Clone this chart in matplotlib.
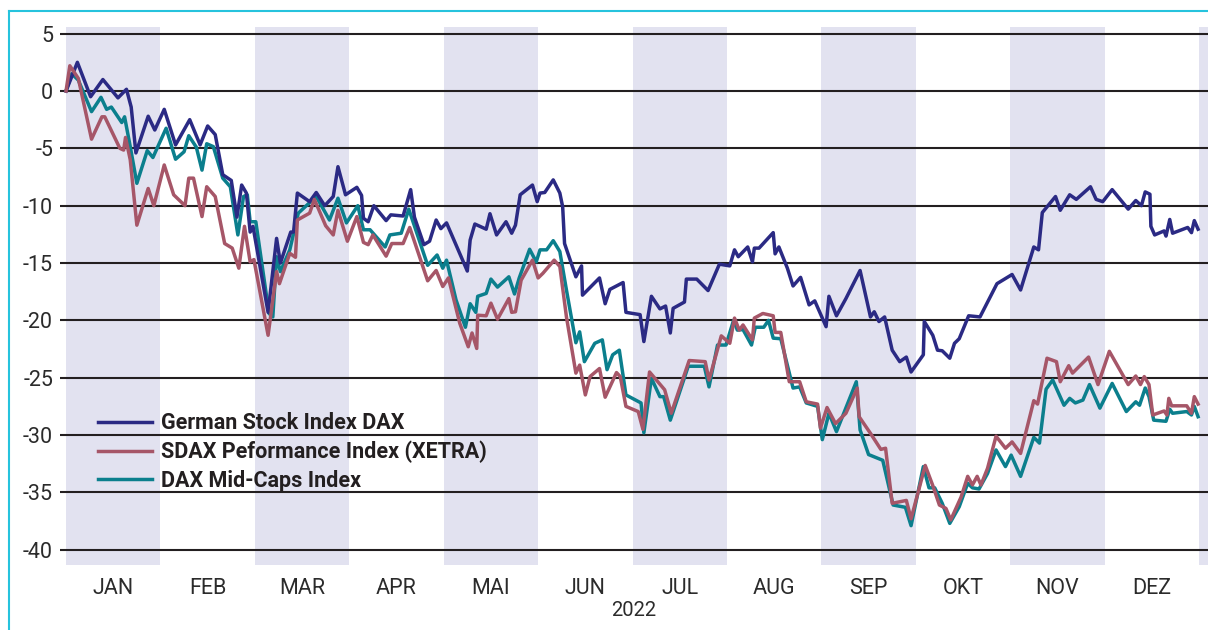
import matplotlib
matplotlib.use("Agg")
import matplotlib.pyplot as plt
from matplotlib.lines import Line2D

plt.rcParams['font.family'] = ['Roboto', 'DejaVu Sans']

# time axis: months since 1 Jan 2022 (each month drawn with equal width)
months = ['JAN', 'FEB', 'MAR', 'APR', 'MAI', 'JUN', 'JUL', 'AUG', 'SEP', 'OKT', 'NOV', 'DEZ']

dax_t = [0.0, 0.06, 0.12, 0.26, 0.39, 0.55, 0.64, 0.69, 0.74, 0.87, 0.94, 1.04, 1.16, 1.31, 1.42, 1.50,
         1.58, 1.66, 1.75, 1.81, 1.86, 1.91, 1.95, 1.98, 2.14, 2.23, 2.27, 2.38, 2.41, 2.45, 2.58, 2.65,
         2.74, 2.83, 2.88, 2.96, 3.08, 3.13, 3.15, 3.20, 3.26, 3.39, 3.44, 3.57, 3.65, 3.69, 3.79, 3.85,
         3.92, 3.97, 4.03, 4.25, 4.28, 4.33, 4.45, 4.49, 4.56, 4.66, 4.72, 4.76, 4.81, 4.94, 4.99, 5.02,
         5.07, 5.16, 5.23, 5.26, 5.28, 5.40, 5.46, 5.47, 5.56, 5.65, 5.71, 5.76, 5.90, 5.93, 6.08, 6.12,
         6.20, 6.29, 6.35, 6.40, 6.43, 6.55, 6.57, 6.68, 6.80, 6.92, 7.03, 7.08, 7.12, 7.22, 7.27, 7.29,
         7.34, 7.49, 7.51, 7.55, 7.64, 7.70, 7.78, 7.87, 7.93, 8.05, 8.08, 8.16, 8.26, 8.41, 8.52, 8.56,
         8.61, 8.67, 8.75, 8.83, 8.90, 8.95, 9.08, 9.09, 9.18, 9.23, 9.28, 9.36, 9.41, 9.46, 9.56, 9.68,
         9.86, 10.02, 10.11, 10.25, 10.30, 10.34, 10.48, 10.53, 10.63, 10.70, 10.85, 10.91, 10.98, 11.08,
         11.25, 11.33, 11.39, 11.43, 11.48, 11.49, 11.53, 11.63, 11.65, 11.69, 11.72, 11.88, 11.92, 11.95,
         11.99]
dax_v = [0.0, 1.25, 2.5, -0.5, 1.0, -0.6, 0.15, -1.4, -5.4, -2.2, -3.4, -1.6, -4.7, -2.5, -4.7, -3.05,
         -3.8, -7.3, -7.8, -11.0, -8.2, -8.9, -12.3, -11.8, -19.3, -12.85, -15.0, -12.3, -12.3, -8.9, -9.65, -8.85,
         -10.0, -9.2, -6.6, -9.05, -8.4, -9.1, -11.1, -11.4, -10.0, -11.3, -10.8, -10.9, -8.6, -11.0, -13.4, -13.1,
         -11.25, -12.0, -11.5, -15.7, -13.0, -11.6, -12.05, -10.7, -12.55, -11.4, -12.4, -11.7, -9.05, -8.2, -9.65, -8.9,
         -8.85, -7.75, -8.9, -10.1, -13.3, -16.2, -15.25, -17.8, -17.05, -16.3, -18.55, -17.3, -16.7, -19.3, -19.5, -21.85,
         -17.9, -19.0, -18.75, -21.1, -18.95, -18.4, -16.4, -16.4, -17.4, -15.1, -15.25, -13.85, -14.45, -13.6, -14.9, -13.7,
         -13.7, -12.35, -14.2, -13.6, -15.45, -17.0, -16.25, -18.65, -18.3, -20.55, -17.9, -19.6, -18.1, -15.65, -19.7, -19.25,
         -20.1, -19.7, -22.6, -23.6, -23.2, -24.5, -23.0, -20.1, -21.3, -22.6, -22.65, -23.3, -22.0, -21.6, -19.6, -19.7,
         -16.8, -16.0, -17.35, -13.6, -13.85, -10.6, -9.2, -10.4, -9.05, -9.45, -8.35, -9.45, -9.65, -8.6,
         -10.3, -9.55, -10.0, -8.8, -9.0, -11.8, -12.55, -12.2, -12.65, -11.2, -12.4, -11.9, -12.35, -11.3,
         -12.05]

sdax_t = [0.0, 0.04, 0.13, 0.27, 0.38, 0.41, 0.57, 0.61, 0.63, 0.68, 0.75, 0.87, 0.93, 1.04, 1.14, 1.26,
          1.30, 1.35, 1.44, 1.49, 1.58, 1.68, 1.76, 1.83, 1.89, 1.95, 1.99, 2.14, 2.23, 2.26, 2.37, 2.43,
          2.45, 2.58, 2.63, 2.75, 2.83, 2.88, 2.98, 3.08, 3.15, 3.20, 3.25, 3.39, 3.45, 3.57, 3.64, 3.83,
          3.92, 3.99, 4.05, 4.17, 4.26, 4.30, 4.35, 4.36, 4.45, 4.50, 4.57, 4.69, 4.72, 4.76, 4.82, 4.94,
          5.00, 5.05, 5.17, 5.23, 5.30, 5.40, 5.44, 5.50, 5.55, 5.65, 5.71, 5.83, 5.87, 5.93, 6.06, 6.11,
          6.18, 6.34, 6.41, 6.60, 6.77, 6.81, 6.94, 7.03, 7.08, 7.13, 7.17, 7.27, 7.29, 7.38, 7.49, 7.51,
          7.57, 7.66, 7.77, 7.84, 7.96, 7.99, 8.06, 8.15, 8.26, 8.38, 8.40, 8.52, 8.63, 8.68, 8.75, 8.90,
          8.95, 9.10, 9.18, 9.25, 9.32, 9.37, 9.48, 9.55, 9.60, 9.65, 9.69, 9.76, 9.85, 9.95, 10.02, 10.11,
          10.25, 10.29, 10.39, 10.49, 10.53, 10.62, 10.66, 10.83, 10.93, 11.05, 11.25, 11.33, 11.38, 11.42,
          11.47, 11.51, 11.63, 11.66, 11.68, 11.71, 11.87, 11.92, 11.95, 11.99]
sdax_v = [0.0, 2.2, 1.1, -4.2, -2.25, -2.25, -5.0, -5.15, -4.05, -6.0, -11.7, -8.5, -10.0, -6.45, -9.05, -10.0,
          -7.6, -7.6, -10.95, -8.35, -9.2, -13.3, -13.7, -15.45, -11.8, -14.9, -14.7, -21.3, -15.75, -16.8, -14.15, -14.5,
          -11.25, -10.65, -9.45, -11.75, -12.55, -10.4, -13.1, -10.95, -13.2, -13.4, -12.55, -14.4, -13.3, -13.3, -11.9, -16.55,
          -15.65, -17.05, -16.3, -20.25, -22.3, -21.1, -22.45, -19.55, -19.6, -18.5, -19.9, -18.1, -19.3, -19.25, -16.5, -14.75,
          -16.3, -15.9, -14.75, -15.3, -19.7, -24.6, -23.9, -26.5, -24.9, -24.2, -26.7, -24.55, -24.9, -27.5, -27.95, -29.5,
          -24.5, -26.05, -28.1, -23.5, -23.6, -25.2, -21.35, -22.0, -19.8, -20.85, -20.4, -21.7, -19.8, -19.4, -19.6, -21.05,
          -21.05, -25.35, -25.35, -27.1, -27.3, -29.4, -27.6, -29.0, -28.1, -25.9, -28.4, -29.85, -31.25, -31.15, -35.95, -35.7,
          -37.3, -32.65, -34.4, -36.1, -36.4, -37.4, -35.4, -33.6, -34.35, -33.6, -34.35, -32.9, -30.1, -31.15, -30.6, -31.6,
          -27.0, -27.3, -23.3, -23.6, -25.35, -23.95, -24.6, -23.2, -25.6, -22.7, -25.6, -24.85, -25.6, -24.9,
          -25.6, -28.25, -27.9, -28.25, -26.8, -27.45, -27.45, -28.1, -26.65, -27.3]

mdax_t = [0.0, 0.06, 0.13, 0.27, 0.37, 0.43, 0.48, 0.59, 0.62, 0.68, 0.75, 0.86, 0.92, 1.06, 1.16, 1.25,
          1.30, 1.38, 1.44, 1.49, 1.56, 1.66, 1.74, 1.82, 1.88, 1.92, 1.95, 2.01, 2.15, 2.19, 2.23, 2.27,
          2.37, 2.46, 2.65, 2.79, 2.88, 2.97, 3.09, 3.15, 3.22, 3.38, 3.43, 3.55, 3.63, 3.83, 3.93, 3.99,
          4.03, 4.13, 4.23, 4.28, 4.34, 4.36, 4.45, 4.50, 4.57, 4.69, 4.75, 4.80, 4.91, 4.98, 5.02, 5.09,
          5.16, 5.23, 5.30, 5.40, 5.44, 5.49, 5.60, 5.68, 5.73, 5.79, 5.86, 5.93, 6.09, 6.12, 6.20, 6.29,
          6.33, 6.40, 6.59, 6.76, 6.81, 6.90, 6.99, 7.07, 7.11, 7.17, 7.26, 7.30, 7.39, 7.44, 7.49, 7.57,
          7.70, 7.77, 7.84, 7.96, 8.01, 8.08, 8.16, 8.37, 8.41, 8.50, 8.65, 8.76, 8.89, 8.95, 9.08, 9.14,
          9.20, 9.28, 9.36, 9.46, 9.55, 9.60, 9.67, 9.76, 9.85, 9.95, 10.01, 10.11, 10.25, 10.31, 10.38, 10.45,
          10.57, 10.63, 10.69, 10.77, 10.84, 10.95, 11.08, 11.23, 11.33, 11.37, 11.43, 11.47, 11.52, 11.65,
          11.69, 11.72, 11.87, 11.92, 11.95, 11.99]
mdax_v = [0.0, 1.5, 0.95, -1.8, -0.55, -1.6, -1.4, -2.75, -2.25, -4.85, -8.05, -5.2, -5.8, -3.25, -5.95, -5.3,
          -3.9, -4.9, -6.9, -4.6, -4.85, -7.6, -8.35, -12.55, -9.2, -9.05, -11.4, -11.4, -19.4, -19.7, -14.45, -15.75,
          -13.85, -10.65, -9.2, -11.25, -9.35, -11.5, -10.0, -12.1, -12.1, -13.6, -12.55, -12.4, -10.3, -15.2, -14.3, -15.45,
          -14.75, -18.2, -20.6, -18.55, -19.3, -17.9, -17.65, -16.4, -17.1, -16.2, -17.7, -16.3, -13.8, -14.9, -13.85, -13.85,
          -13.05, -14.0, -17.35, -21.95, -21.0, -23.6, -22.0, -21.7, -24.3, -23.0, -22.6, -26.5, -27.2, -29.8, -25.05, -26.65,
          -26.65, -28.7, -24.0, -24.0, -25.8, -22.15, -22.15, -20.0, -20.85, -20.8, -22.15, -20.6, -20.6, -20.0, -21.55, -21.6,
          -25.9, -25.8, -27.2, -27.5, -30.4, -28.1, -29.7, -25.35, -29.55, -31.7, -32.2, -36.1, -36.3, -37.9, -32.75, -34.6,
          -34.6, -35.95, -37.7, -36.25, -34.2, -34.6, -34.7, -33.35, -31.3, -32.75, -31.75, -33.6, -30.2, -30.7, -26.0, -25.2,
          -27.4, -26.8, -27.2, -26.95, -25.6, -27.65, -25.5, -27.95, -27.1, -27.4, -25.9, -26.65, -28.7, -28.8,
          -27.75, -28.1, -27.95, -28.25, -27.5, -28.4]

yticks = [5, 0, -5, -10, -15, -20, -25, -30, -35, -40]

fig = plt.figure(figsize=(12.08, 6.3), dpi=100)
ax = fig.add_axes([60 / 1208, 1 - 565 / 630, 1148 / 1208, 538 / 630])

# alternating month bands
for m in range(0, 13, 2):
    ax.axvspan(m, m + 1, color='#e2e2f0', lw=0, zorder=0)
for y in yticks:
    ax.axhline(y, color='#231f20', lw=1.5, zorder=1)

ax.plot(dax_t, dax_v, color='#2b2a84', lw=2.5, zorder=3, label='German Stock Index DAX')
ax.plot(sdax_t, sdax_v, color='#a65668', lw=2.5, zorder=3, label='SDAX Peformance Index (XETRA)')
ax.plot(mdax_t, mdax_v, color='#0b7f8d', lw=2.5, zorder=2, label='DAX Mid-Caps Index')

ax.set_xlim(-0.064, 12.095)
ax.set_ylim(-41.33, 5.58)
ax.set_yticks(yticks)
ax.set_yticklabels([str(v) for v in yticks])
ax.set_xticks([i + 0.5 for i in range(12)])
ax.set_xticklabels(months)
ax.tick_params(axis='y', length=0, pad=5, labelsize=15.5, labelcolor='#2b2b2b')
ax.tick_params(axis='x', length=0, pad=9, labelsize=15.5, labelcolor='#2b2b2b')
for s in ax.spines.values():
    s.set_visible(False)

leg = ax.legend(loc='upper left', bbox_to_anchor=(0.033, 0.284), frameon=False,
                borderpad=0, borderaxespad=0, handlelength=2.5, handletextpad=0.45,
                labelspacing=0.3, prop={'size': 15.5, 'weight': 'bold'})
for t in leg.get_texts():
    t.set_color('#231f20')

fig.text(634 / 1208, 1 - 611 / 630, '2022', ha='center', va='center', fontsize=14.5, color='#2b2b2b')

# frame around the graphic (only top and left visible)
fig.add_artist(Line2D([9 / 1208, 1], [1 - 11 / 630] * 2, color='#26c3dd', lw=1.5))
fig.add_artist(Line2D([9 / 1208] * 2, [0, 1 - 11 / 630], color='#26c3dd', lw=1.5))

fig.savefig('out.png', dpi=100)
